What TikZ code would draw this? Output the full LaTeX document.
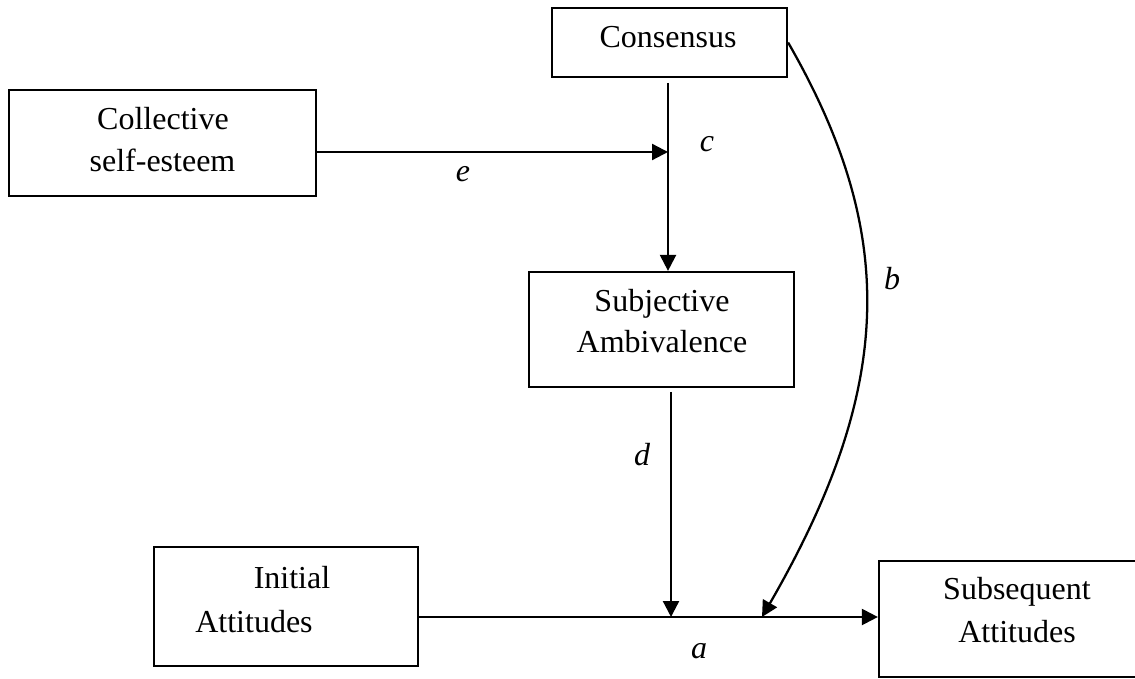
\documentclass[tikz,border=0pt]{standalone}
\usepackage{fontspec}
\setmainfont{Liberation Serif}
\usetikzlibrary{arrows.meta}
\begin{document}
\begin{tikzpicture}[x=0.375pt,y=-0.375pt,
  box/.style={draw,line width=0.85pt,inner sep=0pt},
  txt/.style={font=\fontsize{12}{15}\selectfont,inner sep=0pt,anchor=base},
  lbl/.style={font=\fontsize{12}{15}\selectfont\itshape,inner sep=0pt,anchor=base},
  conn/.style={line width=0.85pt,-{Triangle[length=6pt,width=6pt]}}]
\useasboundingbox (0,0) rectangle (1135,679);

% boxes
\node[box,minimum width=115.1pt,minimum height=39.75pt] (coll) at (162.5,143) {};
\node[box,minimum width=88.1pt,minimum height=25.9pt] (cons) at (669.5,42.5) {};
\node[box,minimum width=99.4pt,minimum height=43.1pt] (subj) at (661.5,329.5) {};
\node[box,minimum width=99pt,minimum height=44.6pt] (init) at (286,606.5) {};
\node[box,minimum width=98.25pt,minimum height=43.5pt] (subs) at (1010,619) {};

% box texts
\node[txt] (t1) at (668,48) {Consensus};
\node[txt] (t2) at (163,130) {Collective};
\node[txt] (t3) at (162.5,172) {self-esteem};
\node[txt] (t4) at (662,312) {Subjective};
\node[txt] (t5) at (662,353) {Ambivalence};
\node[txt] (t6) at (292,588) {Initial};
\node[txt] (t7) at (254,632) {Attitudes};
\node[txt] (t8) at (1017,599) {Subsequent};
\node[txt] (t9) at (1017,642) {Attitudes};

% junction points on the paths
\coordinate (eend) at (668,152);
\coordinate (cstart) at (668,83);
\coordinate (dstart) at (671,392);
\coordinate (dend) at (671,617);
\coordinate (astart) at (418,617);
\coordinate (bend) at (762,617);

% connectors
\draw[conn] (coll.east |- eend) -- (eend);
\draw[conn] (cstart) -- (cstart |- subj.north);
\draw[conn] (dstart) -- (dend);
\draw[conn] (astart) -- (subs.west |- astart);
\draw[conn] (cons.east) .. controls (897,232) and (896,385) .. (bend);

% path labels
\node[lbl] (le) at (463,182) {e};
\node[lbl] (lc) at (707,152) {c};
\node[lbl] (ld) at (642,465) {d};
\node[lbl] (lb) at (892,290) {b};
\node[lbl] (la) at (699,658) {a};
\end{tikzpicture}
\end{document}
